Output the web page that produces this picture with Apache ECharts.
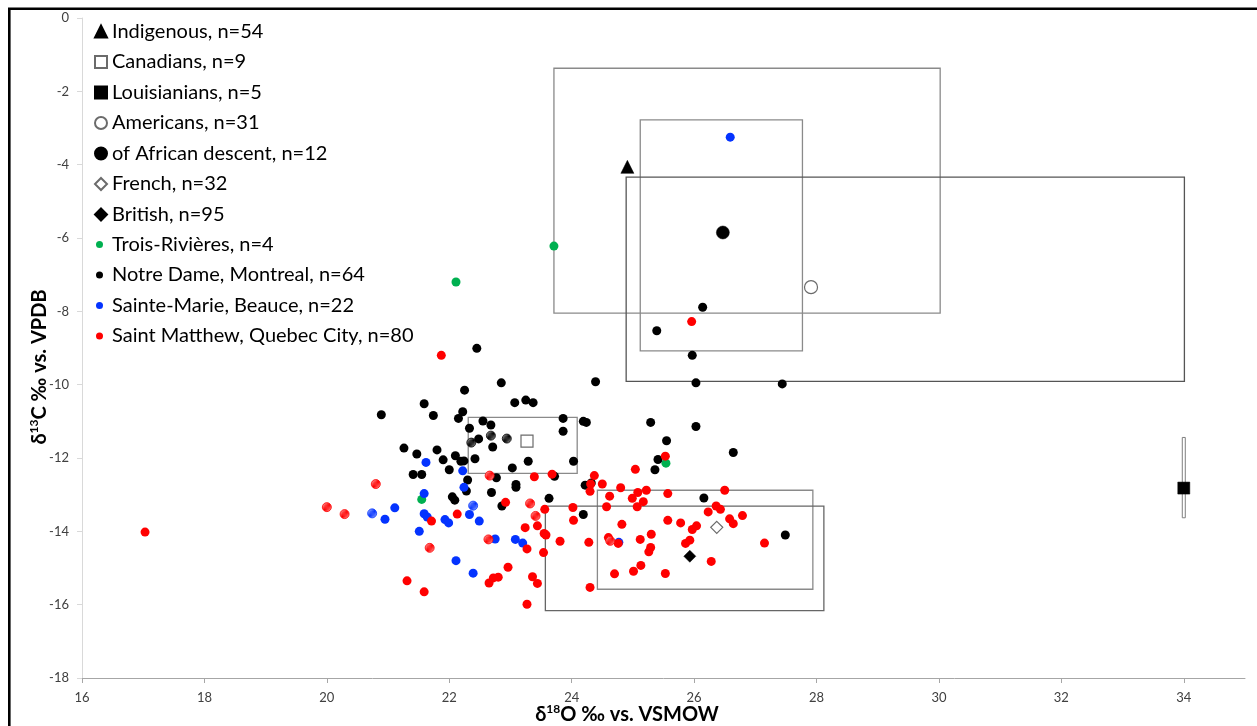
<!DOCTYPE html>
<html>
<head>
<meta charset="utf-8">
<script src="https://cdn.jsdelivr.net/npm/echarts@6/dist/echarts.min.js"></script>
<style>
  html, body { margin: 0; padding: 0; background: #fff; }
  #chart { width: 1257px; height: 726px; }
</style>
</head>
<body>
<div id="chart"></div>
<script>
// Axis ticks
const xTicks = [16, 18, 20, 22, 24, 26, 28, 30, 32, 34];
const yTicks = [0, -2, -4, -6, -8, -10, -12, -14, -16, -18];

// Group mean values [δ18O, δ13C]
const indigenous = [[24.91, -4.06]];
const canadians = [[23.27, -11.54]];
const louisianians = [[34.0, -12.82]];
const americans = [[27.91, -7.34]];
const africanDescent = [[26.47, -5.85]];
const french = [[26.37, -13.89]];
const british = [[25.93, -14.68]];

// Vertical range drawn with the Louisianian mean: [x, yHigh, yLow]
const louisianianRange = [[34.0, -11.44, -13.63]];

// Group ranges: [xMin, xMax, yTop, yBottom]
const groupBoxes = [
  [23.71, 30.02, -1.37, -8.05],
  [25.12, 27.77, -2.78, -9.08],
  [24.89, 34.01, -4.34, -9.91],
  [22.31, 24.09, -10.89, -12.42],
  [24.42, 27.94, -12.88, -15.58],
  [23.57, 28.12, -13.31, -16.16]
];

// Individual samples by site
const troisRivieres = [[23.71, -6.22], [22.11, -7.20], [21.55, -13.13], [25.54, -12.14]];

const notreDame = [
  [22.45, -9.01], [22.85, -9.95], [24.39, -9.92], [26.03, -9.95], [27.44, -9.98], [25.97, -9.20],
  [25.39, -8.53], [26.14, -7.89], [22.25, -10.15], [21.59, -10.52], [23.07, -10.49], [23.25, -10.42],
  [23.37, -10.49], [20.89, -10.82], [21.74, -10.84], [22.22, -10.74], [22.15, -10.92], [22.33, -11.19],
  [22.55, -10.99], [22.68, -11.10], [22.48, -11.48], [22.71, -11.70], [23.86, -10.92], [23.86, -11.27],
  [24.19, -11.00], [24.24, -11.03], [25.29, -11.03], [26.03, -11.14], [25.55, -11.53], [25.41, -12.04],
  [25.36, -12.32], [21.26, -11.73], [21.47, -11.89], [21.80, -11.78], [22.10, -11.94], [21.90, -12.05],
  [22.19, -12.09], [22.24, -12.08], [22.00, -12.32], [22.42, -12.02], [23.03, -12.27], [23.29, -12.09],
  [24.03, -12.09], [21.41, -12.45], [21.55, -12.45], [22.30, -12.60], [22.77, -12.54], [22.28, -12.90],
  [22.69, -12.94], [23.09, -12.72], [23.09, -12.80], [23.72, -12.50], [24.22, -12.74], [24.32, -12.68],
  [22.05, -13.06], [22.09, -13.15], [23.63, -13.10], [22.86, -13.31], [24.19, -13.54], [26.16, -13.09],
  [27.49, -14.10], [26.64, -11.85]
];
const notreDameHatched = [[22.36, -11.58], [22.68, -11.39], [22.94, -11.47]];

const sainteMarie = [
  [20.95, -13.67], [21.11, -13.36], [21.51, -14.00], [21.62, -12.12], [22.22, -12.35], [22.24, -12.80],
  [21.59, -12.97], [21.59, -13.52], [21.64, -13.61], [21.93, -13.68], [21.99, -13.77], [22.33, -13.54],
  [22.49, -13.72], [22.75, -14.21], [23.08, -14.22], [23.20, -14.32], [22.11, -14.80], [22.39, -15.14],
  [24.77, -14.30], [26.59, -3.25]
];
const sainteMarieHatched = [[20.74, -13.51], [22.39, -13.30]];

const saintMatthew = [
  [17.03, -14.02], [21.31, -15.35], [21.87, -9.20], [25.96, -8.28], [21.71, -13.72], [22.13, -13.53],
  [21.59, -15.65], [22.92, -13.21], [23.39, -12.51], [23.68, -12.44], [23.24, -13.90], [23.44, -13.85],
  [23.56, -13.40], [23.55, -14.06], [23.58, -14.10], [23.27, -14.48], [23.54, -14.58], [22.96, -14.98],
  [22.65, -15.41], [22.72, -15.27], [22.80, -15.25], [23.36, -15.24], [23.44, -15.42], [23.27, -15.99],
  [24.02, -13.35], [24.03, -13.70], [23.81, -14.27], [24.28, -14.30], [24.30, -15.53], [24.37, -12.48],
  [24.31, -12.71], [24.30, -12.91], [24.50, -12.71], [24.62, -13.04], [24.57, -13.33], [24.80, -12.81],
  [25.04, -12.31], [24.99, -13.10], [25.08, -12.94], [25.22, -12.88], [25.17, -13.19], [25.07, -13.33],
  [25.57, -12.97], [25.53, -11.95], [24.82, -13.81], [25.57, -13.70], [25.78, -13.77], [25.97, -13.95],
  [26.04, -13.85], [26.23, -13.47], [24.60, -14.17], [24.76, -14.33], [25.12, -14.22], [25.30, -14.08],
  [25.29, -14.44], [25.26, -14.56], [25.86, -14.33], [25.93, -14.24], [26.28, -14.82], [24.70, -15.16],
  [25.01, -15.09], [25.13, -14.93], [25.53, -15.15], [26.50, -12.88], [26.36, -13.31], [26.43, -13.40],
  [26.79, -13.57], [26.58, -13.66], [26.64, -13.79], [27.15, -14.32]
];
const saintMatthewHatched = [
  [20.00, -13.34], [20.29, -13.53], [20.80, -12.71], [21.68, -14.45], [22.66, -12.48],
  [23.32, -13.24], [23.41, -13.58], [22.64, -14.22], [24.63, -14.26]
];

// Legend labels
const groupNames = [
  'Indigenous, n=54', 'Canadians, n=9', 'Louisianians, n=5', 'Americans, n=31',
  'of African descent, n=12', 'French, n=32', 'British, n=95'
];
const siteNames = [
  'Trois-Rivières, n=4', 'Notre Dame, Montreal, n=64',
  'Sainte-Marie, Beauce, n=22', 'Saint Matthew, Quebec City, n=80'
];

const FONT = 'Lato, "Open Sans", "Liberation Sans", sans-serif';
const RED = '#ff0000', BLUE = '#0433ff', GREEN = '#00b050', BLACK = '#000000';
const boxStroke = ['#8a8a8a', '#8a8a8a', '#555555', '#8a8a8a', '#8a8a8a', '#666666'];

// Diagonal stripe fill for hatched samples
function hatch(color) {
  const c = document.createElement('canvas');
  c.width = 4; c.height = 4;
  const g = c.getContext('2d');
  g.fillStyle = '#ffffff';
  g.fillRect(0, 0, 4, 4);
  g.strokeStyle = color;
  g.lineWidth = 1.6;
  g.beginPath();
  g.moveTo(-1, 5); g.lineTo(5, -1);
  g.moveTo(-1, 1); g.lineTo(1, -1);
  g.moveTo(3, 5); g.lineTo(5, 3);
  g.stroke();
  return { image: c, repeat: 'repeat' };
}

function dots(name, data, color, hatched) {
  return {
    name: name,
    type: 'scatter',
    data: data,
    symbol: 'circle',
    symbolSize: 9,
    itemStyle: hatched
      ? { color: hatch(color), borderColor: color, borderWidth: 0.8, opacity: 1 }
      : { color: color, opacity: 1 },
    z: 3
  };
}

function marker(name, data, symbol, size, filled) {
  return {
    name: name,
    type: 'scatter',
    data: data,
    symbol: symbol,
    symbolSize: size,
    itemStyle: filled
      ? { color: '#000000', borderColor: '#000000', borderWidth: 0.5, opacity: 1 }
      : { color: '#ffffff', borderColor: '#6b6b6b', borderWidth: 1.2, opacity: 1 },
    z: 4
  };
}

const chart = echarts.init(document.getElementById('chart'), null, { renderer: 'canvas' });

const legendText = { fontSize: 20, lineHeight: 22, color: '#000', fontFamily: FONT };

const option = {
  animation: false,
  backgroundColor: '#ffffff',
  textStyle: { fontFamily: FONT },
  grid: { left: 82, right: 12, top: 18, bottom: 48 },
  xAxis: {
    type: 'value',
    min: 16, max: 35, interval: 2,
    splitLine: { show: false },
    axisLine: { onZero: false, lineStyle: { color: '#a6a6a6', width: 1 } },
    axisTick: { show: true, length: 5, customValues: xTicks, lineStyle: { color: '#a6a6a6' } },
    axisLabel: { customValues: xTicks, margin: 13, fontSize: 13, color: '#404040', fontFamily: FONT }
  },
  yAxis: {
    type: 'value',
    min: -18, max: 0, interval: 2,
    splitLine: { show: false },
    axisLine: { show: true, onZero: false, lineStyle: { color: '#d9d9d9', width: 1 } },
    axisTick: { show: true, length: 5, customValues: yTicks, lineStyle: { color: '#d9d9d9' } },
    axisLabel: { customValues: yTicks, margin: 13, fontSize: 13, color: '#404040', fontFamily: FONT }
  },
  legend: [
    {
      orient: 'vertical', left: 94, top: 20.5, padding: 0,
      itemWidth: 12, itemHeight: 12, itemGap: 8.5,
      selectedMode: false,
      textStyle: legendText,
      data: [
        { name: groupNames[0], icon: 'triangle' },
        { name: groupNames[1], icon: 'rect' },
        { name: groupNames[2], icon: 'rect' },
        { name: groupNames[3], icon: 'circle' },
        { name: groupNames[4], icon: 'circle' },
        { name: groupNames[5], icon: 'diamond' },
        { name: groupNames[6], icon: 'diamond' }
      ]
    },
    {
      orient: 'vertical', left: 96, top: 233.5, padding: 0,
      itemWidth: 7, itemHeight: 7, itemGap: 8.5,
      selectedMode: false,
      textStyle: Object.assign({}, legendText, { padding: [0, 0, 0, 4] }),
      data: siteNames.map(n => ({ name: n, icon: 'circle' }))
    }
  ],
  graphic: [
    {
      type: 'rect', silent: true, z: 100,
      shape: { x: 9.3, y: 8.7, width: 1400, height: 900 },
      style: { fill: 'none', stroke: '#000', lineWidth: 2.6 }
    },
    {
      type: 'text', silent: true,
      x: 40, y: 367, rotation: Math.PI / 2,
      style: {
        text: '{a|δ}{b|13}{a|C ‰ vs. VPDB}',
        align: 'center', verticalAlign: 'middle',
        rich: {
          a: { fontSize: 20, fontWeight: 'bold', fontFamily: FONT, fill: '#000', lineHeight: 24 },
          b: { fontSize: 12, fontWeight: 'bold', fontFamily: FONT, fill: '#000', lineHeight: 24, verticalAlign: 'top' }
        }
      }
    },
    {
      type: 'text', silent: true,
      x: 627, y: 715,
      style: {
        text: '{a|δ}{b|18}{a|O ‰ vs. VSMOW}',
        align: 'center', verticalAlign: 'middle',
        rich: {
          a: { fontSize: 20, fontWeight: 'bold', fontFamily: FONT, fill: '#000', lineHeight: 24 },
          b: { fontSize: 12, fontWeight: 'bold', fontFamily: FONT, fill: '#000', lineHeight: 24, verticalAlign: 'top' }
        }
      }
    }
  ],
  series: [
    {
      name: 'ranges',
      type: 'custom',
      data: groupBoxes,
      encode: { x: [0, 1], y: [2, 3] },
      silent: true,
      z: 1,
      renderItem: function (params, api) {
        const p1 = api.coord([api.value(0), api.value(2)]);
        const p2 = api.coord([api.value(1), api.value(3)]);
        return {
          type: 'rect',
          shape: { x: p1[0], y: p1[1], width: p2[0] - p1[0], height: p2[1] - p1[1] },
          style: { fill: 'none', stroke: boxStroke[params.dataIndex], lineWidth: 1.3 }
        };
      }
    },
    {
      name: 'louisianianRange',
      type: 'custom',
      data: louisianianRange,
      encode: { x: 0, y: [1, 2] },
      silent: true,
      z: 2,
      renderItem: function (params, api) {
        const p1 = api.coord([api.value(0), api.value(1)]);
        const p2 = api.coord([api.value(0), api.value(2)]);
        return {
          type: 'rect',
          shape: { x: p1[0] - 1.5, y: p1[1], width: 3, height: p2[1] - p1[1] },
          style: { fill: '#ffffff', stroke: '#7f7f7f', lineWidth: 1 }
        };
      }
    },
    dots(siteNames[0], troisRivieres, GREEN, false),
    dots(siteNames[1], notreDame, BLACK, false),
    dots(siteNames[1], notreDameHatched, BLACK, true),
    dots(siteNames[2], sainteMarie, BLUE, false),
    dots(siteNames[2], sainteMarieHatched, BLUE, true),
    dots(siteNames[3], saintMatthew, RED, false),
    dots(siteNames[3], saintMatthewHatched, RED, true),
    marker(groupNames[0], indigenous, 'triangle', 13, true),
    marker(groupNames[1], canadians, 'rect', 12, false),
    marker(groupNames[2], louisianians, 'rect', 12, true),
    marker(groupNames[3], americans, 'circle', 13, false),
    marker(groupNames[4], africanDescent, 'circle', 13, true),
    marker(groupNames[5], french, 'diamond', 12, false),
    marker(groupNames[6], british, 'diamond', 12, true)
  ]
};

chart.setOption(option);
</script>
</body>
</html>
